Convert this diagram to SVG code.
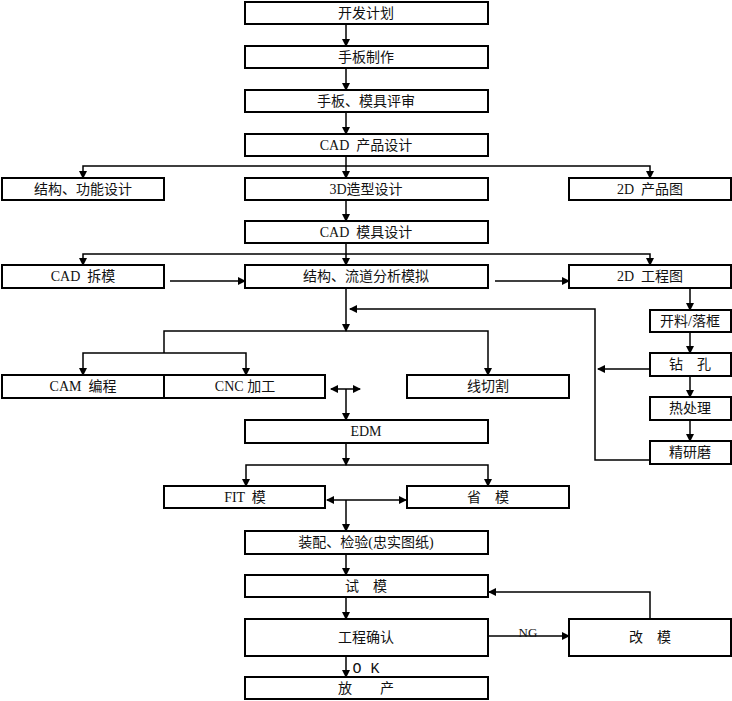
<svg xmlns="http://www.w3.org/2000/svg" width="732" height="701" viewBox="0 0 732 701">
<defs>
<marker id="a" markerWidth="8" markerHeight="8" refX="7" refY="4" orient="auto" markerUnits="userSpaceOnUse"><path d="M0,0 L8,4 L0,8 z" fill="#000"/></marker>
<marker id="s" markerWidth="8" markerHeight="8" refX="1" refY="4" orient="auto" markerUnits="userSpaceOnUse"><path d="M8,0 L0,4 L8,8 z" fill="#000"/></marker>
</defs>
<style>
rect{fill:#fff;stroke:#000;stroke-width:2}
text{font-family:"Liberation Serif","Noto Sans CJK SC",serif;font-size:14px;text-anchor:middle;fill:#111;white-space:pre}
#c path{fill:none;stroke:#000;stroke-width:1.5;marker-end:url(#a)}
</style>
<rect width="732" height="701" style="stroke:none"/>
<g id="c">
<path d="M346,24V46"/><path d="M346,68V90"/><path d="M346,112V134"/>
<path d="M346,166H83V178"/><path d="M346,166H650V178"/><path d="M346,156V178"/>
<path d="M346,200V221"/>
<path d="M346,254H83V265"/><path d="M346,254H650V265"/><path d="M346,243V265"/>
<path d="M170,281H245"/><path d="M495,281H569"/>
<path d="M690,288V310"/><path d="M690,332V353"/><path d="M690,376V397"/><path d="M690,420V441"/>
<path d="M650,460H595V309H350"/>
<path d="M650,369H598"/>
<path d="M346,288V331"/>
<path d="M164,353V331H488V375"/>
<path d="M164,353H83V375"/><path d="M164,353H246V375"/>
<path d="M331,389H360" marker-start="url(#s)"/>
<path d="M346,389V420"/>
<path d="M346,443V465"/><path d="M346,465H246V486"/><path d="M346,465H488V486"/>
<path d="M327,500H406" marker-start="url(#s)"/>
<path d="M346,500V531"/><path d="M346,554V575"/><path d="M346,597V619"/><path d="M346,656V677"/>
<path d="M488,636H569"/>
<path d="M650,619V592H489"/>
</g>
<g id="labels">
<text x="528" y="637" style="font-size:13px">NG</text>
<text x="366" y="673" style="font-family:'Liberation Mono',monospace;font-size:15px">O K</text>
</g>
<g id="n1"><rect x="245" y="2" width="243" height="22"/><text x="366" y="18">开发计划</text></g>
<g id="n2"><rect x="245" y="46" width="243" height="22"/><text x="366" y="62">手板制作</text></g>
<g id="n3"><rect x="245" y="90" width="243" height="22"/><text x="366" y="106">手板、模具评审</text></g>
<g id="n4"><rect x="245" y="134" width="243" height="22"/><text x="366" y="150">CAD  产品设计</text></g>
<g id="n5"><rect x="2" y="178" width="162" height="22"/><text x="83" y="194">结构、功能设计</text></g>
<g id="n6"><rect x="245" y="178" width="243" height="22"/><text x="366" y="194">3D造型设计</text></g>
<g id="n7"><rect x="569" y="178" width="162" height="22"/><text x="650" y="194">2D  产品图</text></g>
<g id="n8"><rect x="245" y="221" width="243" height="22"/><text x="366" y="237">CAD  模具设计</text></g>
<g id="n9"><rect x="2" y="265" width="162" height="23"/><text x="83" y="281">CAD  拆模</text></g>
<g id="n10"><rect x="245" y="265" width="243" height="23"/><text x="366" y="281">结构、流道分析模拟</text></g>
<g id="n11"><rect x="569" y="265" width="162" height="23"/><text x="650" y="281">2D  工程图</text></g>
<g id="n12"><rect x="650" y="310" width="81" height="22"/><text x="690" y="326">开料/落框</text></g>
<g id="n13"><rect x="650" y="353" width="81" height="23"/><text x="690" y="369">钻　孔</text></g>
<g id="n14"><rect x="650" y="397" width="81" height="23"/><text x="690" y="413">热处理</text></g>
<g id="n15"><rect x="650" y="441" width="81" height="23"/><text x="690" y="457">精研磨</text></g>
<g id="n16"><rect x="2" y="375" width="162" height="23"/><text x="83" y="391">CAM  编程</text></g>
<g id="n17"><rect x="164" y="375" width="161" height="23"/><text x="245" y="391">CNC 加工</text></g>
<g id="n18"><rect x="407" y="375" width="162" height="23"/><text x="488" y="391">线切割</text></g>
<g id="n19"><rect x="245" y="420" width="243" height="23"/><text x="366" y="436">EDM</text></g>
<g id="n20"><rect x="164" y="486" width="161" height="22"/><text x="245" y="502">FIT  模</text></g>
<g id="n21"><rect x="407" y="486" width="162" height="22"/><text x="488" y="502">省　模</text></g>
<g id="n22"><rect x="245" y="531" width="243" height="23"/><text x="366" y="547">装配、检验(忠实图纸)</text></g>
<g id="n23"><rect x="245" y="575" width="243" height="22"/><text x="366" y="591">试　模</text></g>
<g id="n24"><rect x="245" y="619" width="243" height="37"/><text x="366" y="642">工程确认</text></g>
<g id="n25"><rect x="569" y="619" width="162" height="37"/><text x="650" y="642">改　模</text></g>
<g id="n26"><rect x="245" y="677" width="243" height="22"/><text x="366" y="693">放　　产</text></g>
</svg>
